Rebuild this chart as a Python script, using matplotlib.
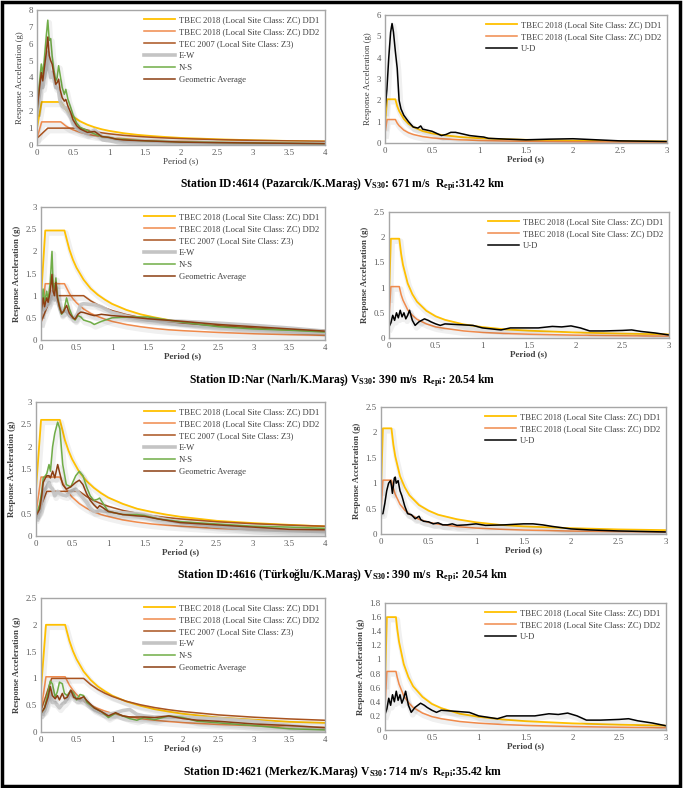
import matplotlib
matplotlib.use("Agg")
import matplotlib.pyplot as plt
import matplotlib.patheffects as pe
from matplotlib.lines import Line2D
from matplotlib.patches import Rectangle
from matplotlib.ticker import MultipleLocator, FormatStrFormatter

plt.rcParams["font.family"] = ["Liberation Serif", "DejaVu Serif"]
plt.rcParams["mathtext.fontset"] = "custom"
plt.rcParams["mathtext.rm"] = "Liberation Serif"
plt.rcParams["mathtext.bf"] = "Liberation Serif:bold"
plt.rcParams["mathtext.it"] = "Liberation Serif:italic"

# ---------------- design spectra ----------------
# horizontal: corner periods + common decay grid
H_DECAY_T = [0.4, 0.45, 0.5, 0.6, 0.7, 0.8, 0.9, 1.0, 1.2, 1.4, 1.6, 1.8, 2.0, 2.5, 3.0, 3.5, 4.0]
V_DECAY_T = [0.13, 0.15, 0.2, 0.25, 0.3, 0.4, 0.5, 0.6, 0.8, 1.0, 1.25, 1.5, 2.0, 2.5, 3.0]

TEC_T = [0, 0.15, 0.6, 0.7, 0.8, 0.9, 1.0, 1.2, 1.4, 1.6, 1.8, 2.0, 2.5, 3.0, 3.5, 4.0]
TEC_SA = [0.4, 1.0, 1.0, 0.884, 0.794, 0.723, 0.665, 0.574, 0.508, 0.456, 0.415, 0.382,
          0.319, 0.276, 0.244, 0.219]

DD1_4614_H = [1.0, 2.55, 2.55, 2.10, 1.87, 1.68, 1.40, 1.20, 1.05, 0.93, 0.84, 0.70, 0.60, 0.53,
              0.47, 0.42, 0.34, 0.28, 0.24, 0.21]
DD2_4614_H = [0.4, 1.37, 1.37, 1.13, 1.0, 0.90, 0.75, 0.64, 0.56, 0.50, 0.45, 0.38, 0.32, 0.28,
              0.25, 0.23, 0.18, 0.15, 0.13, 0.11]
DD1_NAR_H = [0.95, 2.47, 2.47, 2.04, 1.81, 1.63, 1.36, 1.16, 1.02, 0.91, 0.815, 0.68, 0.58, 0.51,
             0.45, 0.41, 0.33, 0.27, 0.23, 0.20]
DD2_NAR_H = [0.4, 1.27, 1.27, 1.05, 0.93, 0.84, 0.70, 0.60, 0.53, 0.47, 0.42, 0.35, 0.30, 0.26,
             0.23, 0.21, 0.17, 0.14, 0.12, 0.105]
DD1_4616_H = [1.05, 2.6, 2.6, 2.15, 1.91, 1.72, 1.43, 1.23, 1.08, 0.96, 0.86, 0.72, 0.61, 0.54,
              0.48, 0.43, 0.34, 0.29, 0.25, 0.215]
DD2_4616_H = [0.5, 1.32, 1.32, 1.09, 0.97, 0.87, 0.725, 0.62, 0.54, 0.48, 0.435, 0.36, 0.31, 0.27,
              0.24, 0.22, 0.17, 0.145, 0.125, 0.11]
DD1_4621_H = [0.8, 2.0, 2.0, 1.7, 1.51, 1.36, 1.13, 0.97, 0.85, 0.76, 0.68, 0.57, 0.49, 0.425,
              0.38, 0.34, 0.27, 0.23, 0.19, 0.17]
DD2_4621_H = [0.4, 1.03, 1.03, 0.875, 0.78, 0.70, 0.58, 0.50, 0.44, 0.39, 0.35, 0.29, 0.25, 0.22,
              0.195, 0.175, 0.14, 0.117, 0.10, 0.088]

DD1_4614_V = [0.8, 2.05, 2.05, 1.73, 1.50, 1.13, 0.90, 0.75, 0.56, 0.45, 0.38, 0.28, 0.225, 0.18,
              0.15, 0.11, 0.09, 0.075]
DD2_4614_V = [0.45, 1.1, 1.1, 0.93, 0.81, 0.605, 0.48, 0.40, 0.30, 0.24, 0.20, 0.15, 0.12, 0.097,
              0.08, 0.06, 0.048, 0.04]
DD1_NAR_V = [0.8, 1.97, 1.97, 1.67, 1.45, 1.085, 0.87, 0.72, 0.54, 0.43, 0.36, 0.27, 0.217, 0.17,
             0.145, 0.11, 0.087, 0.072]
DD2_NAR_V = [0.4, 1.02, 1.02, 0.86, 0.75, 0.56, 0.45, 0.37, 0.28, 0.22, 0.19, 0.14, 0.11, 0.09,
             0.075, 0.056, 0.045, 0.037]
DD1_4616_V = [0.85, 2.08, 2.08, 1.76, 1.53, 1.14, 0.92, 0.76, 0.57, 0.46, 0.38, 0.29, 0.23, 0.18,
              0.15, 0.115, 0.09, 0.076]
DD2_4616_V = [0.45, 1.06, 1.06, 0.9, 0.78, 0.585, 0.47, 0.39, 0.29, 0.23, 0.195, 0.146, 0.117,
              0.094, 0.078, 0.058, 0.047, 0.039]
DD1_4621_V = [0.65, 1.6, 1.6, 1.44, 1.25, 0.935, 0.75, 0.62, 0.47, 0.37, 0.31, 0.23, 0.187, 0.15,
              0.125, 0.094, 0.075, 0.062]
DD2_4621_V = [0.33, 0.83, 0.83, 0.75, 0.65, 0.485, 0.39, 0.32, 0.24, 0.19, 0.16, 0.12, 0.097,
              0.078, 0.065, 0.049, 0.039, 0.032]

# ---------------- recorded spectra ----------------
T_4614 = [0, 0.03, 0.06, 0.08, 0.1, 0.13, 0.15, 0.17, 0.19, 0.21, 0.23, 0.26, 0.28, 0.3, 0.32,
          0.35, 0.38, 0.4, 0.43, 0.47, 0.5, 0.55, 0.6, 0.7, 0.8, 0.9, 1.0, 1.1, 1.2, 1.3, 1.5,
          2.0, 2.5, 3.0, 3.5, 4.0]
NS_4614 = [2.0, 3.5, 4.8, 4.2, 5.0, 6.5, 7.4, 6.2, 6.3, 5.3, 4.6, 3.8, 4.0, 4.7, 4.2, 3.4, 3.0,
           3.3, 2.7, 2.2, 1.8, 1.3, 1.05, 0.85, 0.65, 0.5, 0.45, 0.35, 0.35, 0.3, 0.25, 0.18,
           0.15, 0.12, 0.1, 0.08]
EW_4614 = [2.0, 2.9, 3.9, 3.4, 4.0, 4.6, 5.5, 4.5, 4.0, 4.3, 4.0, 3.4, 3.4, 3.2, 2.6, 2.3, 2.2,
           2.2, 1.95, 1.6, 1.25, 1.0, 0.85, 0.66, 0.9, 0.5, 0.45, 0.35, 0.26, 0.26, 0.25, 0.16,
           0.13, 0.12, 0.1, 0.08]
GEO_4614 = [2.0, 3.2, 4.3, 3.8, 4.5, 5.5, 6.4, 5.3, 5.0, 4.8, 4.3, 3.6, 3.7, 3.9, 3.3, 2.8, 2.6,
            2.7, 2.3, 1.9, 1.5, 1.15, 0.95, 0.75, 0.8, 0.5, 0.45, 0.35, 0.3, 0.28, 0.25, 0.17,
            0.14, 0.12, 0.1, 0.08]
T_UD_4614 = [0, 0.02, 0.04, 0.06, 0.075, 0.09, 0.11, 0.13, 0.15, 0.17, 0.2, 0.25, 0.3, 0.35,
             0.38, 0.4, 0.45, 0.5, 0.55, 0.6, 0.65, 0.7, 0.75, 0.8, 0.9, 1.0, 1.05, 1.1, 1.3,
             1.5, 1.75, 2.0, 2.25, 2.5, 3.0]
UD_4614 = [1.5, 2.5, 4.0, 5.2, 5.6, 5.2, 4.3, 3.5, 2.0, 1.6, 1.3, 1.0, 0.75, 0.7, 0.8, 0.65,
           0.6, 0.55, 0.45, 0.35, 0.4, 0.5, 0.5, 0.45, 0.35, 0.3, 0.28, 0.22, 0.18, 0.15, 0.18,
           0.2, 0.15, 0.1, 0.07]

T_NAR = [0, 0.03, 0.05, 0.08, 0.1, 0.13, 0.155, 0.17, 0.19, 0.21, 0.23, 0.26, 0.29, 0.32, 0.36,
         0.4, 0.45, 0.48, 0.52, 0.56, 0.6, 0.7, 0.75, 0.85, 1.0, 1.25, 1.5, 2.0, 2.5, 3.0, 3.5,
         4.0]
NS_NAR = [0.6, 1.15, 0.85, 1.1, 0.9, 1.3, 2.0, 1.3, 1.1, 1.4, 1.0, 0.75, 0.58, 0.65, 0.95, 0.7,
          0.5, 0.45, 0.55, 0.52, 0.45, 0.4, 0.35, 0.42, 0.5, 0.52, 0.52, 0.4, 0.3, 0.25, 0.22,
          0.18]
EW_NAR = [0.6, 0.75, 0.7, 0.8, 0.8, 0.9, 1.1, 0.95, 0.9, 1.2, 0.9, 0.75, 0.62, 0.65, 0.65, 0.55,
          0.5, 0.5, 0.62, 0.8, 0.82, 0.8, 0.8, 0.75, 0.62, 0.52, 0.45, 0.42, 0.38, 0.33, 0.27,
          0.2]
GEO_NAR = [0.6, 0.95, 0.75, 0.95, 0.85, 1.1, 1.48, 1.1, 1.0, 1.3, 0.95, 0.75, 0.6, 0.65, 0.78,
           0.6, 0.5, 0.47, 0.58, 0.63, 0.62, 0.57, 0.55, 0.58, 0.55, 0.52, 0.48, 0.42, 0.35, 0.3,
           0.25, 0.2]
# the same U-D curve appears for Nar and 4621
T_UD_NAR = [0, 0.02, 0.04, 0.06, 0.08, 0.1, 0.12, 0.14, 0.16, 0.18, 0.2, 0.22, 0.25, 0.28, 0.32,
            0.38, 0.42, 0.45, 0.5, 0.55, 0.6, 0.7, 0.8, 0.9, 1.0, 1.1, 1.2, 1.3, 1.4, 1.6, 1.75,
            1.85, 1.95, 2.05, 2.15, 2.3, 2.5, 2.6, 2.7, 2.85, 3.0]
UD_NAR = [0.22, 0.3, 0.45, 0.35, 0.5, 0.4, 0.55, 0.42, 0.5, 0.38, 0.45, 0.55, 0.35, 0.25, 0.32,
          0.38, 0.35, 0.32, 0.28, 0.25, 0.28, 0.27, 0.26, 0.25, 0.2, 0.18, 0.16, 0.2, 0.2, 0.2,
          0.23, 0.22, 0.24, 0.2, 0.14, 0.14, 0.15, 0.16, 0.13, 0.1, 0.06]

T_4616 = [0, 0.05, 0.08, 0.1, 0.13, 0.15, 0.18, 0.2, 0.23, 0.26, 0.3, 0.33, 0.37, 0.42, 0.48,
          0.55, 0.6, 0.65, 0.7, 0.75, 0.8, 0.85, 0.88, 0.92, 1.0, 1.2, 1.4, 1.5, 1.7, 2.0, 2.5,
          3.0, 3.5, 4.0]
NS_4616 = [0.45, 0.7, 1.0, 1.3, 1.35, 1.4, 1.6, 1.45, 2.0, 2.3, 2.55, 2.4, 1.6, 1.15, 1.1, 1.35,
           1.45, 1.35, 1.1, 0.9, 0.8, 0.82, 0.85, 0.75, 0.55, 0.48, 0.48, 0.46, 0.38, 0.32, 0.27,
           0.22, 0.2, 0.17]
EW_4616 = [0.45, 0.55, 0.8, 1.0, 1.05, 1.1, 1.2, 1.1, 1.05, 0.9, 1.0, 0.95, 0.92, 0.9, 1.0,
           1.05, 0.95, 0.85, 0.75, 0.62, 0.55, 0.55, 0.58, 0.55, 0.55, 0.52, 0.5, 0.48, 0.4, 0.3,
           0.22, 0.15, 0.12, 0.1]
GEO_4616 = [0.45, 0.6, 0.9, 1.2, 1.3, 1.35, 1.35, 1.3, 1.45, 1.3, 1.6, 1.4, 1.15, 1.05, 1.1, 1.2,
            1.25, 1.15, 0.95, 0.8, 0.7, 0.62, 0.68, 0.64, 0.55, 0.48, 0.45, 0.44, 0.38, 0.3,
            0.25, 0.2, 0.15, 0.14]
T_UD_4616 = [0, 0.02, 0.04, 0.06, 0.08, 0.1, 0.11, 0.12, 0.14, 0.15, 0.16, 0.18, 0.2, 0.22,
             0.25, 0.28, 0.32, 0.36, 0.4, 0.42, 0.45, 0.5, 0.55, 0.6, 0.65, 0.7, 0.75, 0.8, 0.9,
             1.0, 1.1, 1.3, 1.5, 1.6, 1.7, 1.8, 2.0, 2.2, 2.5, 3.0]
UD_4616 = [0.4, 0.4, 0.6, 0.85, 1.0, 1.05, 0.95, 0.8, 1.1, 1.12, 1.0, 1.05, 0.85, 0.75, 0.55,
           0.4, 0.38, 0.3, 0.35, 0.28, 0.25, 0.24, 0.2, 0.22, 0.18, 0.18, 0.2, 0.17, 0.18, 0.2,
           0.17, 0.18, 0.2, 0.2, 0.18, 0.15, 0.1, 0.08, 0.06, 0.04]

T_4621 = [0, 0.05, 0.1, 0.13, 0.16, 0.2, 0.23, 0.26, 0.3, 0.33, 0.37, 0.42, 0.46, 0.5, 0.55,
          0.6, 0.65, 0.75, 0.85, 0.95, 1.05, 1.15, 1.25, 1.35, 1.45, 1.6, 1.8, 2.0, 2.2, 2.5,
          3.0, 3.5, 4.0]
NS_4621 = [0.35, 0.45, 0.75, 0.95, 0.9, 0.65, 0.75, 0.93, 0.9, 0.72, 0.68, 0.78, 0.72, 0.6, 0.7,
           0.68, 0.55, 0.45, 0.38, 0.27, 0.35, 0.3, 0.25, 0.22, 0.27, 0.23, 0.3, 0.27, 0.2, 0.17,
           0.12, 0.06, 0.04]
EW_4621 = [0.35, 0.4, 0.6, 0.78, 0.55, 0.55, 0.5, 0.45, 0.52, 0.55, 0.62, 0.75, 0.65, 0.62, 0.6,
           0.6, 0.55, 0.42, 0.36, 0.33, 0.36, 0.4, 0.42, 0.33, 0.3, 0.28, 0.28, 0.28, 0.26, 0.25,
           0.2, 0.12, 0.06]
GEO_4621 = [0.35, 0.45, 0.65, 0.85, 0.68, 0.62, 0.68, 0.6, 0.72, 0.62, 0.65, 0.78, 0.65, 0.62,
            0.62, 0.66, 0.58, 0.45, 0.38, 0.3, 0.36, 0.3, 0.28, 0.28, 0.28, 0.27, 0.3, 0.25, 0.22,
            0.2, 0.15, 0.12, 0.08]

CAPTIONS = [
    r"Station ID:4614 (Pazarcık/K.Maraş) V$_{\mathbf{S30}}$: 671 m/s  R$_{\mathbf{epi}}$:31.42 km",
    r"Station ID:Nar (Narlı/K.Maraş) V$_{\mathbf{S30}}$: 390 m/s  R$_{\mathbf{epi}}$: 20.54 km",
    r"Station ID:4616 (Türkoğlu/K.Maraş) V$_{\mathbf{S30}}$: 390 m/s  R$_{\mathbf{epi}}$: 20.54 km",
    r"Station ID:4621 (Merkez/K.Maraş) V$_{\mathbf{S30}}$: 714 m/s  R$_{\mathbf{epi}}$:35.42 km",
]

C_DD1 = "#FFC000"
C_DD2 = "#F08A4B"
C_TEC = "#A9531F"
C_EW = "#C4C4C4"
C_NS = "#70AD47"
C_GEO = "#8B3E12"
C_UD = "#000000"
TXT = "#404040"

SHADOW = [pe.SimpleLineShadow(offset=(1.0, -1.8), shadow_color="#000000", alpha=0.06,
                              linewidth=4), pe.Normal()]


def style_axes(ax, xmax, ymax, ystep, bold_x, bold_y):
    ax.set_xlim(0, xmax)
    ax.set_ylim(0, ymax)
    ax.xaxis.set_major_locator(MultipleLocator(0.5))
    ax.yaxis.set_major_locator(MultipleLocator(ystep))
    ax.xaxis.set_major_formatter(FormatStrFormatter("%g"))
    ax.yaxis.set_major_formatter(FormatStrFormatter("%g"))
    ax.tick_params(length=0, labelsize=6.3, labelcolor="#595959", pad=3)
    for s in ax.spines.values():
        s.set_color("#A6A6A6")
        s.set_linewidth(1.0)
    ax.set_xlabel("Period (s)", fontsize=6.5, color=TXT, labelpad=0,
                  fontweight="bold" if bold_x else "normal")
    ax.set_ylabel("Response Acceleration (g)", fontsize=6.3, color=TXT, labelpad=3,
                  fontweight="bold" if bold_y else "normal")


def add_legend(ax, handles, labels):
    ax.legend(handles, labels, loc="upper right", frameon=False, fontsize=6.2,
              handlelength=3.6, handletextpad=0.4, labelspacing=0.45, borderaxespad=0.3,
              labelcolor=TXT)


def draw_horizontal(ax, ta, tb, dd1, dd2, t_rec, ew, ns, geo, ymax, ystep, bold_x, bold_y):
    ht = [0, ta, tb] + H_DECAY_T
    ax.plot(ht, dd1, color=C_DD1, lw=1.3, path_effects=SHADOW)
    ax.plot(ht, dd2, color=C_DD2, lw=1.1, path_effects=SHADOW)
    ax.plot(TEC_T, TEC_SA, color=C_TEC, lw=1.1, path_effects=SHADOW)
    ax.plot(t_rec, ew, color=C_EW, lw=2.6, alpha=0.9, path_effects=SHADOW)
    ax.plot(t_rec, ns, color=C_NS, lw=1.1, path_effects=SHADOW)
    ax.plot(t_rec, geo, color=C_GEO, lw=1.1, path_effects=SHADOW)
    handles = [Line2D([], [], color=C_DD1, lw=1.3), Line2D([], [], color=C_DD2, lw=1.1),
               Line2D([], [], color=C_TEC, lw=1.1), Line2D([], [], color=C_EW, lw=2.6),
               Line2D([], [], color=C_NS, lw=1.1), Line2D([], [], color=C_GEO, lw=1.1)]
    labels = ["TBEC 2018 (Local Site Class: ZC) DD1", "TBEC 2018 (Local Site Class: ZC) DD2",
              "TEC 2007 (Local Site Class: Z3)", "E-W", "N-S", "Geometric Average"]
    add_legend(ax, handles, labels)
    style_axes(ax, 4, ymax, ystep, bold_x, bold_y)


def draw_vertical(ax, ta, tb, dd1, dd2, t_ud, ud, ymax, ystep, bold_x, bold_y):
    vt = [0, ta, tb] + V_DECAY_T
    ax.plot(vt, dd1, color=C_DD1, lw=1.3, path_effects=SHADOW)
    ax.plot(vt, dd2, color=C_DD2, lw=1.1, path_effects=SHADOW)
    ax.plot(t_ud, ud, color=C_UD, lw=1.1, path_effects=SHADOW)
    handles = [Line2D([], [], color=C_DD1, lw=1.3), Line2D([], [], color=C_DD2, lw=1.1),
               Line2D([], [], color=C_UD, lw=1.1)]
    labels = ["TBEC 2018 (Local Site Class: ZC) DD1", "TBEC 2018 (Local Site Class: ZC) DD2",
              "U-D"]
    add_legend(ax, handles, labels)
    style_axes(ax, 3, ymax, ystep, bold_x, bold_y)


fig = plt.figure(figsize=(6.85, 7.88), dpi=100)

W, H = 685.0, 788.0


def add_ax(x0, x1, y0, y1):
    return fig.add_axes([x0 / W, 1 - y1 / H, (x1 - x0) / W, (y1 - y0) / H])


ax = add_ax(37, 325, 10, 145)
draw_horizontal(ax, 0.065, 0.33, DD1_4614_H, DD2_4614_H, T_4614, EW_4614, NS_4614, GEO_4614,
                8, 1, False, False)
ax = add_ax(385, 667, 15, 143)
draw_vertical(ax, 0.022, 0.11, DD1_4614_V, DD2_4614_V, T_UD_4614, UD_4614, 6, 1, True, False)

ax = add_ax(41, 325, 207, 340)
draw_horizontal(ax, 0.06, 0.33, DD1_NAR_H, DD2_NAR_H, T_NAR, EW_NAR, NS_NAR, GEO_NAR,
                3, 0.5, True, True)
ax = add_ax(389, 669, 212, 338)
draw_vertical(ax, 0.02, 0.11, DD1_NAR_V, DD2_NAR_V, T_UD_NAR, UD_NAR, 2.5, 0.5, True, True)

ax = add_ax(36, 325, 402, 536)
draw_horizontal(ax, 0.07, 0.33, DD1_4616_H, DD2_4616_H, T_4616, EW_4616, NS_4616, GEO_4616,
                3, 0.5, True, True)
ax = add_ax(381, 666, 407, 534)
draw_vertical(ax, 0.02, 0.11, DD1_4616_V, DD2_4616_V, T_UD_4616, UD_4616, 2.5, 0.5, True, True)

ax = add_ax(41, 325, 598, 732)
draw_horizontal(ax, 0.07, 0.34, DD1_4621_H, DD2_4621_H, T_4621, EW_4621, NS_4621, GEO_4621,
                2.5, 0.5, True, True)
ax = add_ax(385, 666, 603, 730)
draw_vertical(ax, 0.02, 0.117, DD1_4621_V, DD2_4621_V, T_UD_NAR, UD_NAR, 1.8, 0.2, True, True)

for cap, ypx in zip(CAPTIONS, [185, 381, 576, 773]):
    fig.text(0.5, 1 - ypx / H, cap, ha="center", va="center", fontsize=8.4,
             fontweight="bold", color="black")

fig.patches.append(Rectangle((0.003, 0.002), 0.990, 0.996, transform=fig.transFigure,
                             fill=False, edgecolor="black", lw=2.5))

fig.savefig("out.png", dpi=100)
